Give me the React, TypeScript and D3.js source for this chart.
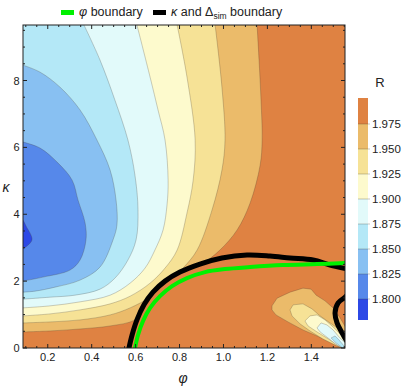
import React from "react";
import * as d3 from "d3";

type Pt = [number, number];

// ---- axes / levels ----
const phiDomain: [number, number] = [0.0873, 1.5533];
const kappaDomain: [number, number] = [0, 9.66];
const xTicks = [0.2, 0.4, 0.6, 0.8, 1.0, 1.2, 1.4];
const yTicks = [0, 2, 4, 6, 8];
const levels = [1.8, 1.825, 1.85, 1.875, 1.9, 1.925, 1.95, 1.975];
const legendRange: [number, number] = [1.779, 2.001];
const bandColors = [
  "#2C48E6", "#5688EA", "#88C0F2", "#B4E8F7", "#E2FAFA",
  "#FDFACD", "#F6E296", "#EBBB6A", "#DF8242",
];

// ---- contour lines of R (outer field), one per level ----
const c1800: Pt[] = [[0.087, 3.83], [0.101, 3.65], [0.128, 3.23], [0.087, 2.96]];
const c1825: Pt[] = [[0.087, 6.16], [0.165, 5.98], [0.247, 5.53], [0.311, 5.02], [0.338, 4.42], [0.37, 3.74], [0.374, 3.23], [0.347, 2.63], [0.301, 2.33], [0.178, 2.12], [0.087, 2.0]];
const c1850: Pt[] = [[0.087, 8.46], [0.165, 8.25], [0.256, 7.8], [0.347, 7.12], [0.424, 6.22], [0.484, 5.32], [0.511, 4.42], [0.515, 3.68], [0.497, 3.23], [0.438, 2.42], [0.347, 2.03], [0.233, 1.82], [0.142, 1.7], [0.087, 1.67]];
const c1875: Pt[] = [[0.365, 9.66], [0.438, 8.61], [0.506, 7.41], [0.565, 6.22], [0.597, 5.17], [0.611, 4.13], [0.602, 3.23], [0.565, 2.63], [0.506, 2.09], [0.438, 1.76], [0.324, 1.58], [0.21, 1.52], [0.087, 1.46]];
const c1900: Pt[] = [[0.606, 9.66], [0.666, 8.1], [0.702, 7.12], [0.734, 6.22], [0.748, 5.02], [0.743, 4.28], [0.725, 3.53], [0.688, 2.93], [0.643, 2.39], [0.575, 1.94], [0.484, 1.58], [0.347, 1.38], [0.21, 1.26], [0.087, 1.2]];
const c1925: Pt[] = [[0.789, 9.66], [0.834, 8.1], [0.871, 6.22], [0.862, 5.02], [0.834, 4.04], [0.789, 2.93], [0.734, 2.39], [0.666, 1.94], [0.575, 1.55], [0.484, 1.32], [0.347, 1.14], [0.21, 1.02], [0.087, 0.96]];
const c1950: Pt[] = [[0.962, 9.66], [0.993, 7.8], [1.007, 6.22], [0.993, 5.32], [0.948, 4.13], [0.88, 2.93], [0.816, 2.39], [0.748, 1.94], [0.666, 1.52], [0.575, 1.2], [0.484, 0.99], [0.347, 0.84], [0.21, 0.78], [0.087, 0.75]];
const c1975: Pt[] = [[1.153, 9.66], [1.162, 8.61], [1.171, 7.41], [1.176, 6.22], [1.167, 5.47], [1.121, 4.33], [1.062, 3.53], [0.984, 2.93], [0.893, 2.45], [0.802, 2.03], [0.666, 1.29], [0.597, 0.84], [0.484, 0.66], [0.347, 0.57], [0.21, 0.51], [0.087, 0.48]];
const outerContours = [c1800, c1825, c1850, c1875, c1900, c1925, c1950, c1975];

// ---- closed contours of the region below the boundary (bottom right) ----
const f1975: Pt[] = [[1.221, 1.26], [1.244, 1.49], [1.303, 1.67], [1.362, 1.79], [1.399, 1.76], [1.422, 1.58], [1.462, 1.41], [1.499, 1.2], [1.531, 0.9], [1.563, 0.54], [1.563, -0.03], [1.522, 0.06], [1.485, 0.18], [1.426, 0.36], [1.362, 0.54], [1.294, 0.78], [1.239, 0.99], [1.221, 1.14]];
const f1950: Pt[] = [[1.303, 1.14], [1.317, 1.29], [1.362, 1.32], [1.403, 1.17], [1.44, 0.96], [1.485, 0.75], [1.531, 0.54], [1.563, 0.36], [1.563, -0.03], [1.517, 0.06], [1.453, 0.27], [1.394, 0.51], [1.349, 0.72], [1.312, 0.96]];
const f1925: Pt[] = [[1.371, 0.81], [1.394, 0.96], [1.426, 0.99], [1.462, 0.84], [1.499, 0.63], [1.536, 0.39], [1.563, 0.24], [1.563, -0.03], [1.531, 0.03], [1.485, 0.24], [1.426, 0.48], [1.385, 0.66]];
const f1900: Pt[] = [[1.426, 0.6], [1.444, 0.75], [1.471, 0.69], [1.499, 0.54], [1.526, 0.33], [1.554, 0.15], [1.554, -0.03], [1.517, 0.09], [1.476, 0.3], [1.44, 0.48]];
const f1875: Pt[] = [[1.49, 0.3], [1.508, 0.36], [1.526, 0.24], [1.549, 0.06], [1.549, -0.03], [1.513, 0.15]];
const innerContours: { level: number; pts: Pt[] }[] = [
  { level: 1.975, pts: f1975 },
  { level: 1.95, pts: f1950 },
  { level: 1.925, pts: f1925 },
  { level: 1.9, pts: f1900 },
  { level: 1.875, pts: f1875 },
];

// ---- boundaries ----
const kappaBoundary: Pt[] = [[0.568, -0.05], [0.584, 0.39], [0.606, 0.84], [0.638, 1.29], [0.679, 1.67], [0.734, 2.0], [0.802, 2.27], [0.893, 2.51], [0.993, 2.69], [1.107, 2.78], [1.212, 2.75], [1.303, 2.69], [1.408, 2.63], [1.485, 2.48], [1.56, 2.37]];
const kappaBoundaryRight: Pt[] = [[1.567, 1.61], [1.554, 1.52], [1.522, 1.35], [1.508, 1.05], [1.517, 0.75], [1.54, 0.45], [1.558, 0.24], [1.572, 0.12]];
const phiBoundary: Pt[] = [[0.596, -0.05], [0.611, 0.39], [0.634, 0.81], [0.666, 1.2], [0.711, 1.55], [0.766, 1.85], [0.834, 2.09], [0.916, 2.27], [1.007, 2.36], [1.121, 2.42], [1.271, 2.48], [1.426, 2.51], [1.56, 2.54]];

const plot = { left: 23, top: 25, right: 345, bottom: 348 };
const FONT = "'Liberation Sans', Arial, sans-serif";

export default function App() {
  const x = d3.scaleLinear().domain(phiDomain).range([plot.left, plot.right]);
  const y = d3.scaleLinear().domain(kappaDomain).range([plot.bottom, plot.top]);
  const smooth = d3.line<Pt>().x((d) => x(d[0])).y((d) => y(d[1])).curve(d3.curveCatmullRom.alpha(0.5));
  const poly = d3.line<Pt>().x((d) => x(d[0])).y((d) => y(d[1])).curve(d3.curveLinearClosed);
  const polyOpen = d3.line<Pt>().x((d) => x(d[0])).y((d) => y(d[1]));

  const colorOf = (lvl: number) => bandColors[levels.indexOf(lvl)];

  const regionPath = (pts: Pt[]) => {
    const base = smooth(pts) || "";
    const startsTop = pts[0][1] >= kappaDomain[1] - 1e-6;
    return startsTop ? `${base}L${x(phiDomain[0])},${y(kappaDomain[1])}Z` : `${base}Z`;
  };

  const underArc = `${smooth(kappaBoundary)}L${plot.right + 5},${plot.bottom + 5}L${x(kappaBoundary[0][0])},${plot.bottom + 5}Z`;

  const lineStroke = "rgba(60,50,40,0.35)";

  // ticks
  const xMinor = d3.range(0.1, 1.5501, 0.05).filter((v) => v >= phiDomain[0] && v <= phiDomain[1]);
  const yMinor = d3.range(0, 9.6, 0.5);

  // colorbar
  const cb = { x: 358, w: 10 };
  const cy = d3.scaleLinear().domain([1.8, 1.975]).range([299, 124]);
  const bandEdges = [legendRange[0], ...levels, legendRange[1]];

  return (
    <svg width={409} height={389} style={{ display: "block", position: "absolute", left: 0, top: 0 }} fontFamily={FONT}>
      <defs>
        <clipPath id="plotClip">
          <rect x={plot.left} y={plot.top} width={plot.right - plot.left} height={plot.bottom - plot.top} />
        </clipPath>
      </defs>
      <rect x={0} y={0} width={409} height={389} fill="#fff" />
      <g clipPath="url(#plotClip)">
        <rect x={plot.left} y={plot.top} width={plot.right - plot.left} height={plot.bottom - plot.top} fill={bandColors[8]} />
        {outerContours.map((pts, i) => i).reverse().map((i) => (
          <path key={"f" + i} d={regionPath(outerContours[i])} fill={bandColors[i]} />
        ))}
        {outerContours.map((pts, i) => (
          <path key={"l" + i} d={smooth(pts) || ""} fill="none" stroke={lineStroke} strokeWidth={0.7} />
        ))}
        <path d={underArc} fill={bandColors[8]} />
        {innerContours.map((c, i) => (
          <path key={"i" + i} d={poly(c.pts) || ""} fill={colorOf(c.level)} stroke={lineStroke} strokeWidth={0.7} />
        ))}
        <path d={smooth(kappaBoundary) || ""} fill="none" stroke="#000" strokeWidth={5} />
        <path d={smooth(kappaBoundaryRight) || ""} fill="none" stroke="#000" strokeWidth={5} />
        <path d={smooth(phiBoundary) || ""} fill="none" stroke="#00F000" strokeWidth={4} />
      </g>
      {/* frame */}
      <rect x={plot.left} y={plot.top} width={plot.right - plot.left} height={plot.bottom - plot.top} fill="none" stroke="#222" strokeWidth={1} />
      {/* ticks */}
      <g stroke="#222" strokeWidth={1}>
        {xMinor.map((v, i) => {
          const major = xTicks.some((t) => Math.abs(t - v) < 1e-6);
          const len = major ? 4 : 2;
          return (
            <g key={"xt" + i}>
              <line x1={x(v)} x2={x(v)} y1={plot.bottom} y2={plot.bottom - len} />
              <line x1={x(v)} x2={x(v)} y1={plot.top} y2={plot.top + len} />
            </g>
          );
        })}
        {yMinor.map((v, i) => {
          const major = yTicks.some((t) => Math.abs(t - v) < 1e-6);
          const len = major ? 4 : 2;
          return (
            <g key={"yt" + i}>
              <line x1={plot.left} x2={plot.left + len} y1={y(v)} y2={y(v)} />
              <line x1={plot.right} x2={plot.right - len} y1={y(v)} y2={y(v)} />
            </g>
          );
        })}
      </g>
      {xTicks.map((t) => (
        <text key={"xl" + t} x={x(t)} y={361} fontSize={11} textAnchor="middle" fill="#222">
          {t.toFixed(1)}
        </text>
      ))}
      {yTicks.map((t) => (
        <text key={"yl" + t} x={19.5} y={y(t) + 4} fontSize={11} textAnchor="end" fill="#222">
          {t}
        </text>
      ))}
      <text x={183} y={383} fontSize={14} fontStyle="italic" textAnchor="middle" fill="#222">φ</text>
      <text x={6} y={192} fontSize={14} fontStyle="italic" textAnchor="middle" fill="#222">κ</text>

      {/* legend */}
      <rect x={61} y={10} width={13} height={5} fill="#00F000" />
      <text x={79} y={16} fontSize={12.5} fill="#222">
        <tspan fontStyle="italic">φ</tspan> boundary
      </text>
      <rect x={153} y={10} width={13} height={5} fill="#000" />
      <text x={171} y={16} fontSize={12.5} fill="#222">
        <tspan fontStyle="italic">κ</tspan> and Δ<tspan fontSize={8.5} dy={3}>sim</tspan>
        <tspan dy={-3}> boundary</tspan>
      </text>

      {/* colorbar */}
      <text x={380} y={87} fontSize={13} textAnchor="middle" fill="#222">R</text>
      {bandColors.map((c, i) => (
        <rect key={"cb" + i} x={cb.x} y={cy(bandEdges[i + 1])} width={cb.w} height={cy(bandEdges[i]) - cy(bandEdges[i + 1])} fill={c} />
      ))}
      {levels.map((l) => (
        <g key={"cbt" + l}>
          <line x1={cb.x} x2={cb.x + cb.w + 2} y1={cy(l)} y2={cy(l)} stroke="rgba(60,50,40,0.35)" strokeWidth={0.8} />
          <text x={372} y={cy(l) + 4} fontSize={11.5} fill="#222">{l.toFixed(3)}</text>
        </g>
      ))}
    </svg>
  );
}
